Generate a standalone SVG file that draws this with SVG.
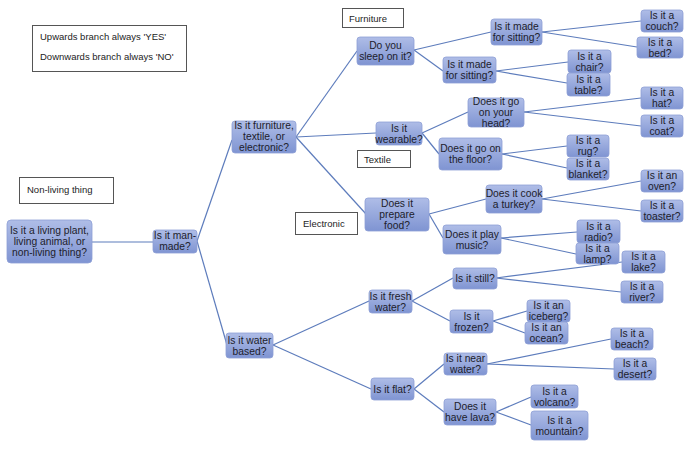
<svg xmlns="http://www.w3.org/2000/svg" width="700" height="453" viewBox="0 0 700 453">
<defs>
<linearGradient id="g" x1="0" y1="0" x2="0" y2="1">
<stop offset="0" stop-color="#afbde7"/>
<stop offset="1" stop-color="#7f94d2"/>
</linearGradient>
<style>
.n rect{fill:url(#g);stroke:#8e9fd6;stroke-width:0.8}
.n text{font-family:"Liberation Sans",Arial,sans-serif;font-size:10.3px;fill:#1d1d2b;text-anchor:middle}
.l rect{fill:#fff;stroke:#555;stroke-width:1}
.l text{font-family:"Liberation Sans",Arial,sans-serif;font-size:9.5px;fill:#1d1d1d}
#connectors line{stroke:#5d7cbc;stroke-width:1.2}
</style>
</defs>
<rect width="700" height="453" fill="#fff"/>
<g id="connectors">
<line x1="92" y1="242" x2="153" y2="242"/>
<line x1="197" y1="241" x2="232" y2="140"/>
<line x1="197" y1="241" x2="227" y2="345"/>
<line x1="296" y1="137" x2="357" y2="51"/>
<line x1="296" y1="137" x2="376" y2="133"/>
<line x1="296" y1="137" x2="366" y2="214"/>
<line x1="273" y1="345" x2="369" y2="301"/>
<line x1="273" y1="345" x2="371" y2="389"/>
<line x1="414" y1="50" x2="491" y2="32"/>
<line x1="414" y1="50" x2="443" y2="71"/>
<line x1="542" y1="32" x2="641" y2="21"/>
<line x1="542" y1="32" x2="637" y2="47"/>
<line x1="496" y1="71" x2="568" y2="62"/>
<line x1="496" y1="71" x2="567" y2="83"/>
<line x1="422" y1="133" x2="468" y2="112"/>
<line x1="422" y1="133" x2="439" y2="154"/>
<line x1="524" y1="112" x2="641" y2="98"/>
<line x1="524" y1="112" x2="641" y2="126"/>
<line x1="502" y1="154" x2="567" y2="146"/>
<line x1="502" y1="154" x2="567" y2="168"/>
<line x1="429" y1="214" x2="486" y2="199"/>
<line x1="429" y1="214" x2="443" y2="238"/>
<line x1="542" y1="199" x2="641" y2="181"/>
<line x1="542" y1="199" x2="641" y2="211"/>
<line x1="501" y1="238" x2="577" y2="232"/>
<line x1="501" y1="238" x2="576" y2="254"/>
<line x1="412" y1="301" x2="453" y2="278"/>
<line x1="412" y1="301" x2="450" y2="321"/>
<line x1="496" y1="278" x2="622" y2="262"/>
<line x1="496" y1="278" x2="621" y2="292"/>
<line x1="493" y1="321" x2="527" y2="311"/>
<line x1="493" y1="321" x2="525" y2="333"/>
<line x1="414" y1="389" x2="444" y2="364"/>
<line x1="414" y1="389" x2="444" y2="412"/>
<line x1="487" y1="364" x2="611" y2="339"/>
<line x1="487" y1="364" x2="614" y2="369"/>
<line x1="496" y1="412" x2="531" y2="397"/>
<line x1="496" y1="412" x2="531" y2="425"/>
</g>
<g id="legend" class="l"><rect x="32.5" y="25.5" width="154" height="46"/><text x="40" y="40">Upwards branch always 'YES'</text><text x="40" y="60">Downwards branch always 'NO'</text></g>
<g id="lbl_nonliving" class="l"><rect x="19.5" y="177.5" width="94" height="26"/><text x="27" y="192.5">Non-living thing</text></g>
<g id="lbl_furniture" class="l"><rect x="342.5" y="8.5" width="61" height="19"/><text x="349" y="21.5">Furniture</text></g>
<g id="lbl_textile" class="l"><rect x="357.5" y="150.5" width="53" height="17"/><text x="364" y="162.5">Textile</text></g>
<g id="lbl_electronic" class="l"><rect x="295.5" y="212.5" width="62" height="22"/><text x="303" y="227">Electronic</text></g>
<g id="n_root" class="n"><rect x="7" y="220" width="85" height="43" rx="4"/><text><tspan x="49.5" y="234">Is it a living plant,</tspan><tspan x="49.5" y="245">living animal, or</tspan><tspan x="49.5" y="256">non-living thing?</tspan></text></g>
<g id="n_manmade" class="n"><rect x="153" y="230" width="44" height="23" rx="3"/><text><tspan x="175" y="239">Is it man-</tspan><tspan x="175" y="250">made?</tspan></text></g>
<g id="n_fte" class="n"><rect x="232" y="121" width="64" height="32" rx="3"/><text><tspan x="264" y="129">Is it furniture,</tspan><tspan x="264" y="140">textile, or</tspan><tspan x="264" y="151">electronic?</tspan></text></g>
<g id="n_water" class="n"><rect x="226" y="333" width="47" height="25" rx="3"/><text><tspan x="249.5" y="343.5">Is it water</tspan><tspan x="249.5" y="354.5">based?</tspan></text></g>
<g id="n_sleep" class="n"><rect x="357" y="37" width="57" height="28" rx="3"/><text><tspan x="385.5" y="48.5">Do you</tspan><tspan x="385.5" y="59.5">sleep on it?</tspan></text></g>
<g id="n_sit1" class="n"><rect x="491" y="19" width="51" height="26" rx="3"/><text><tspan x="516.5" y="30">Is it made</tspan><tspan x="516.5" y="41">for sitting?</tspan></text></g>
<g id="n_couch" class="n"><rect x="641" y="10" width="42" height="22" rx="3"/><text><tspan x="662" y="19">Is it a</tspan><tspan x="662" y="30">couch?</tspan></text></g>
<g id="n_bed" class="n"><rect x="637" y="37" width="46" height="21" rx="3"/><text><tspan x="660" y="45.5">Is it a</tspan><tspan x="660" y="56.5">bed?</tspan></text></g>
<g id="n_sit2" class="n"><rect x="443" y="57" width="53" height="26" rx="3"/><text><tspan x="469.5" y="68">Is it made</tspan><tspan x="469.5" y="79">for sitting?</tspan></text></g>
<g id="n_chair" class="n"><rect x="568" y="50" width="43" height="23" rx="3"/><text><tspan x="589.5" y="59.5">Is it a</tspan><tspan x="589.5" y="70.5">chair?</tspan></text></g>
<g id="n_table" class="n"><rect x="567" y="73" width="43" height="23" rx="3"/><text><tspan x="588.5" y="82.5">Is it a</tspan><tspan x="588.5" y="93.5">table?</tspan></text></g>
<g id="n_wear" class="n"><rect x="376" y="122" width="46" height="23" rx="3"/><text><tspan x="399" y="131.5">Is it</tspan><tspan x="399" y="142.5">wearable?</tspan></text></g>
<g id="n_head" class="n"><rect x="468" y="98" width="56" height="29" rx="3"/><text><tspan x="496" y="105">Does it go</tspan><tspan x="496" y="116">on your</tspan><tspan x="496" y="127">head?</tspan></text></g>
<g id="n_hat" class="n"><rect x="641" y="87" width="42" height="22" rx="3"/><text><tspan x="662" y="96">Is it a</tspan><tspan x="662" y="107">hat?</tspan></text></g>
<g id="n_coat" class="n"><rect x="641" y="115" width="42" height="22" rx="3"/><text><tspan x="662" y="124">Is it a</tspan><tspan x="662" y="135">coat?</tspan></text></g>
<g id="n_floor" class="n"><rect x="439" y="138" width="63" height="32" rx="3"/><text><tspan x="470.5" y="152">Does it go on</tspan><tspan x="470.5" y="163">the floor?</tspan></text></g>
<g id="n_rug" class="n"><rect x="567" y="135" width="42" height="22" rx="3"/><text><tspan x="588" y="144">Is it a</tspan><tspan x="588" y="155">rug?</tspan></text></g>
<g id="n_blanket" class="n"><rect x="567" y="158" width="42" height="22" rx="3"/><text><tspan x="588" y="167">Is it a</tspan><tspan x="588" y="178">blanket?</tspan></text></g>
<g id="n_food" class="n"><rect x="365" y="198" width="64" height="33" rx="3"/><text><tspan x="397" y="207">Does it</tspan><tspan x="397" y="218">prepare</tspan><tspan x="397" y="229">food?</tspan></text></g>
<g id="n_turkey" class="n"><rect x="486" y="185" width="56" height="28" rx="3"/><text><tspan x="514" y="197">Does it cook</tspan><tspan x="514" y="208">a turkey?</tspan></text></g>
<g id="n_oven" class="n"><rect x="641" y="170" width="42" height="22" rx="3"/><text><tspan x="662" y="179">Is it an</tspan><tspan x="662" y="190">oven?</tspan></text></g>
<g id="n_toaster" class="n"><rect x="641" y="200" width="42" height="22" rx="3"/><text><tspan x="662" y="209">Is it a</tspan><tspan x="662" y="220">toaster?</tspan></text></g>
<g id="n_music" class="n"><rect x="443" y="225" width="58" height="29" rx="3"/><text><tspan x="472" y="237.5">Does it play</tspan><tspan x="472" y="248.5">music?</tspan></text></g>
<g id="n_radio" class="n"><rect x="577" y="220" width="43" height="23" rx="3"/><text><tspan x="598.5" y="229.5">Is it a</tspan><tspan x="598.5" y="240.5">radio?</tspan></text></g>
<g id="n_lamp" class="n"><rect x="576" y="243" width="43" height="21" rx="3"/><text><tspan x="597.5" y="251.5">Is it a</tspan><tspan x="597.5" y="262.5">lamp?</tspan></text></g>
<g id="n_fresh" class="n"><rect x="369" y="290" width="43" height="23" rx="3"/><text><tspan x="390.5" y="299.5">Is it fresh</tspan><tspan x="390.5" y="310.5">water?</tspan></text></g>
<g id="n_still" class="n"><rect x="453" y="268" width="44" height="21" rx="3"/><text><tspan x="475" y="282">Is it still?</tspan></text></g>
<g id="n_lake" class="n"><rect x="622" y="251" width="43" height="22" rx="3"/><text><tspan x="643.5" y="260">Is it a</tspan><tspan x="643.5" y="271">lake?</tspan></text></g>
<g id="n_river" class="n"><rect x="621" y="281" width="42" height="22" rx="3"/><text><tspan x="642" y="290">Is it a</tspan><tspan x="642" y="301">river?</tspan></text></g>
<g id="n_frozen" class="n"><rect x="450" y="310" width="43" height="23" rx="3"/><text><tspan x="471.5" y="319.5">Is it</tspan><tspan x="471.5" y="330.5">frozen?</tspan></text></g>
<g id="n_iceberg" class="n"><rect x="527" y="300" width="43" height="22" rx="3"/><text><tspan x="548.5" y="309">Is it an</tspan><tspan x="548.5" y="320">iceberg?</tspan></text></g>
<g id="n_ocean" class="n"><rect x="525" y="322" width="43" height="22" rx="3"/><text><tspan x="546.5" y="331">Is it an</tspan><tspan x="546.5" y="342">ocean?</tspan></text></g>
<g id="n_flat" class="n"><rect x="371" y="378" width="43" height="22" rx="3"/><text><tspan x="392.5" y="392.5">Is it flat?</tspan></text></g>
<g id="n_near" class="n"><rect x="444" y="353" width="43" height="22" rx="3"/><text><tspan x="465.5" y="362">Is it near</tspan><tspan x="465.5" y="373">water?</tspan></text></g>
<g id="n_beach" class="n"><rect x="611" y="328" width="42" height="22" rx="3"/><text><tspan x="632" y="337">Is it a</tspan><tspan x="632" y="348">beach?</tspan></text></g>
<g id="n_desert" class="n"><rect x="614" y="358" width="42" height="22" rx="3"/><text><tspan x="635" y="367">Is it a</tspan><tspan x="635" y="378">desert?</tspan></text></g>
<g id="n_lava" class="n"><rect x="444" y="399" width="52" height="26" rx="3"/><text><tspan x="470" y="410">Does it</tspan><tspan x="470" y="421">have lava?</tspan></text></g>
<g id="n_volcano" class="n"><rect x="531" y="385" width="47" height="23" rx="3"/><text><tspan x="554.5" y="394.5">Is it a</tspan><tspan x="554.5" y="405.5">volcano?</tspan></text></g>
<g id="n_mountain" class="n"><rect x="531" y="411" width="57" height="29" rx="3"/><text><tspan x="559.5" y="423.5">Is it a</tspan><tspan x="559.5" y="434.5">mountain?</tspan></text></g>
</svg>
